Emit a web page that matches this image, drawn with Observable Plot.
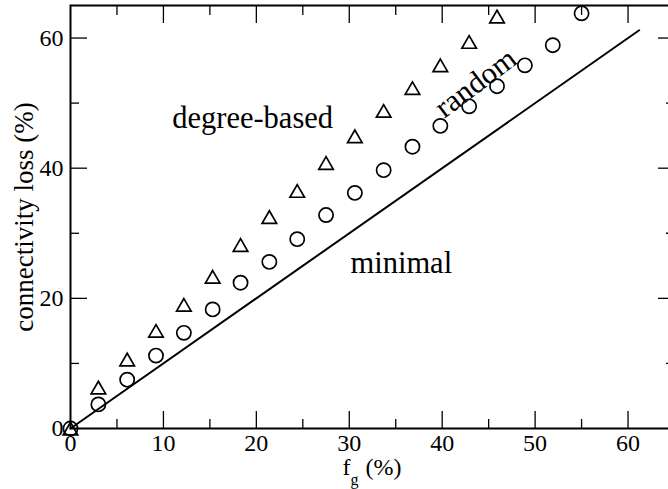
<!DOCTYPE html>
<html>
<head>
<meta charset="utf-8">
<script src="https://cdn.jsdelivr.net/npm/d3@7"></script>
<script src="https://cdn.jsdelivr.net/npm/@observablehq/plot@0.6"></script>
<style>
  html, body { margin: 0; padding: 0; background: white; overflow: hidden; }
  #chart svg { display: block; }
  #chart svg text, #chart svg tspan { font-family: "Liberation Serif", "Times New Roman", serif !important; }
</style>
</head>
<body>
<div id="chart"></div>
<script>
// degree-based removal (triangles)
const degreeFg   = [0, 3.0, 6.1, 9.2, 12.2, 15.3, 18.3, 21.4, 24.4, 27.5, 30.6, 33.7, 36.8, 39.8, 42.9, 45.9];
const degreeLoss = [0, 6.3, 10.6, 15.0, 19.0, 23.3, 28.2, 32.5, 36.5, 40.8, 44.9, 48.8, 52.3, 55.8, 59.4, 63.3];
// random removal (circles)
const randomFg   = [0, 3.0, 6.1, 9.2, 12.2, 15.3, 18.3, 21.4, 24.4, 27.5, 30.6, 33.7, 36.8, 39.8, 42.9, 45.9, 48.9, 51.9, 55.0];
const randomLoss = [0, 3.7, 7.5, 11.2, 14.7, 18.3, 22.4, 25.6, 29.1, 32.8, 36.2, 39.7, 43.3, 46.5, 49.5, 52.6, 55.8, 58.9, 63.8];
// minimal (line)
const minimalFg   = [0, 61.2];
const minimalLoss = [0, 61.2];

// ticks
const xMajor = [10, 20, 30, 40, 50, 60];
const xMinor = [5, 15, 25, 35, 45, 55];
const yMajor = [20, 40, 60];
const yMinor = [10, 30, 50];
const xTickLabels = [0, 10, 20, 30, 40, 50, 60];
const yTickLabels = [0, 20, 40, 60];

// annotations
const annText = ["degree-based", "random", "minimal"];
const annX    = [19.6, 43.6, 35.6];
const annY    = [47.6, 53.1, 25.4];
const annRot  = [0, -37, 0];

const yLabel = "connectivity loss (%)";

const degree = degreeFg.map((x, i) => ({x, y: degreeLoss[i]}));
const random = randomFg.map((x, i) => ({x, y: randomLoss[i]}));
const minimal = minimalFg.map((x, i) => ({x, y: minimalLoss[i]}));
const ann = annText.map((t, i) => ({t, x: annX[i], y: annY[i], r: annRot[i]}));

const font = "Liberation Serif";
const tickStyle = {stroke: "black", strokeWidth: 1.3, tickFormat: () => "", label: null};

const plot = Plot.plot({
  width: 668,
  height: 489,
  marginLeft: 70,
  marginRight: -6,
  marginTop: 5,
  marginBottom: 61,
  style: {fontFamily: font, background: "white", color: "black"},
  x: {domain: [0, 65]},
  y: {domain: [0, 65]},
  marks: [
    // inward ticks on all four sides
    Plot.axisX(xMajor, {anchor: "bottom", tickSize: -17, ...tickStyle}),
    Plot.axisX(xMinor, {anchor: "bottom", tickSize: -9, ...tickStyle}),
    Plot.axisX(xMajor, {anchor: "top", tickSize: -17, ...tickStyle}),
    Plot.axisX(xMinor, {anchor: "top", tickSize: -9, ...tickStyle}),
    Plot.axisY(yMajor, {anchor: "left", tickSize: -17, ...tickStyle}),
    Plot.axisY(yMinor, {anchor: "left", tickSize: -9, ...tickStyle}),
    Plot.axisY(yMajor, {anchor: "right", tickSize: -17, ...tickStyle}),
    Plot.axisY(yMinor, {anchor: "right", tickSize: -9, ...tickStyle}),
    // tick labels
    Plot.axisX(xTickLabels, {anchor: "bottom", tickSize: 0, tickPadding: 5, fontSize: 24, fontFamily: font, label: null, fill: "black"}),
    Plot.axisY(yTickLabels, {anchor: "left", tickSize: 0, tickPadding: 7, fontSize: 24, fontFamily: font, label: null, fill: "black"}),
    Plot.frame({stroke: "black", strokeWidth: 2}),
    // data
    Plot.line(minimal, {x: "x", y: "y", stroke: "black", strokeWidth: 2}),
    Plot.dot(random, {x: "x", y: "y", r: 7.1, stroke: "black", strokeWidth: 1.7, fill: "none"}),
    Plot.dot(degree, {x: "x", y: "y", symbol: "triangle", r: 5.4, dy: 2.1, stroke: "black", strokeWidth: 1.7, fill: "none"}),
    // annotations
    Plot.text(ann, {x: "x", y: "y", text: "t", rotate: "r", fontSize: 30.5, fontFamily: font, lineAnchor: "middle", textAnchor: "middle", fill: "black"}),
    // axis labels
    Plot.text([yLabel], {frameAnchor: "left", dx: -46, rotate: -90, text: d => d, fontSize: 27, fontFamily: font, lineAnchor: "middle", textAnchor: "middle", fill: "black"}),
    Plot.text(["f"], {frameAnchor: "bottom", dx: -30, dy: 46, text: d => d, textAnchor: "start", lineAnchor: "bottom", fontSize: 24, fontFamily: font, fill: "black"}),
    Plot.text(["g"], {frameAnchor: "bottom", dx: -22, dy: 56, text: d => d, textAnchor: "start", lineAnchor: "bottom", fontSize: 16, fontFamily: font, fill: "black"}),
    Plot.text(["(%)"], {frameAnchor: "bottom", dx: -7, dy: 46, text: d => d, textAnchor: "start", lineAnchor: "bottom", fontSize: 24, fontFamily: font, fill: "black"})
  ]
});
document.getElementById("chart").appendChild(plot);
</script>
</body>
</html>
